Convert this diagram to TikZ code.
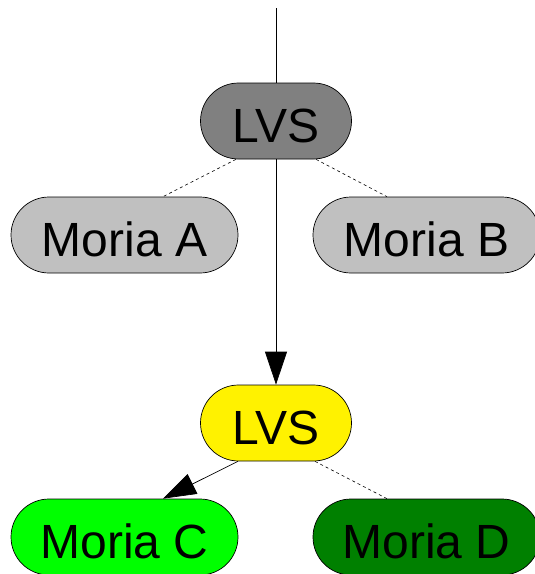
\documentclass[tikz,border=0pt]{standalone}
\usepackage{fontspec}
\setmainfont{Liberation Sans}
\usepackage{xcolor}
\usetikzlibrary{arrows.meta}

\definecolor{lvsgray}{HTML}{808080}
\definecolor{moriagray}{HTML}{C0C0C0}
\definecolor{moriagreen}{HTML}{00FF00}
\definecolor{moriadark}{HTML}{008000}

\begin{document}
\begin{tikzpicture}[x=1pt, y=-1pt,
            pill/.style={draw, line width=0.7pt, rounded corners=38pt, minimum height=76pt,
                inner sep=0pt, text height=42pt, text depth=0pt, font=\fontsize{48}{58}\selectfont},
            lvsbox/.style={pill, minimum width=151pt},
            moriabox/.style={pill, minimum width=227pt},
            tie/.style={line width=0.6pt, dash pattern=on 3pt off 3pt},
            push/.style={line width=0.7pt, -{Triangle[length=33pt,width=22pt]}}]
            \useasboundingbox (0,0) rectangle (535,574);
            % upper level
            \coordinate (feed) at (276,8);
            \node[lvsbox, fill=lvsgray] (lvsA) at (276,121) {LVS};
            \node[moriabox, fill=moriagray] (moriaA) at (124.5,235) {Moria A};
            \node[moriabox, fill=moriagray] (moriaB) at (426.5,235) {Moria B};
            % lower level
            \node[lvsbox, fill=yellow] (lvsB) at (276,423) {LVS};
            \node[moriabox, fill=moriagreen] (moriaC) at (124.5,537) {Moria C};
            \node[moriabox, fill=moriadark] (moriaD) at (426.5,537) {Moria D};
            % links
            \draw[line width=0.7pt] (feed) -- (lvsA);
            \draw[tie] ([xshift=-40pt]lvsA.south) -- ([xshift=38.5pt]moriaA.north);
            \draw[tie] ([xshift=40pt]lvsA.south) -- ([xshift=-39.5pt]moriaB.north);
            \draw[push] (lvsA) -- (lvsB);
            \draw[push] ([xshift=-38pt]lvsB.south) -- ([xshift=38.5pt]moriaC.north);
            \draw[tie] ([xshift=39pt]lvsB.south) -- ([xshift=-39.5pt]moriaD.north);
        \end{tikzpicture}
\end{document}
